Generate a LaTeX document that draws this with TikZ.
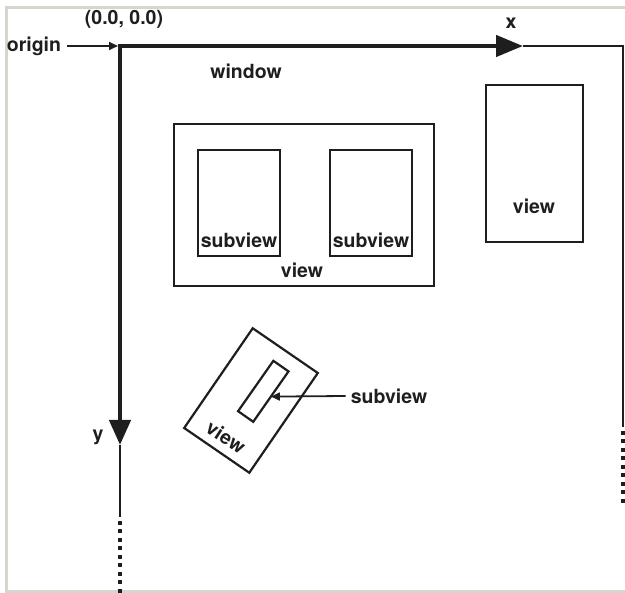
\documentclass[tikz,border=0pt]{standalone}
\usepackage{fontspec}
\setmainfont{TeX Gyre Heros}
\usepackage{tikz}
\usetikzlibrary{positioning,arrows.meta}
\usepackage{xcolor}
\definecolor{ink}{RGB}{30,30,30}
\definecolor{framegray}{RGB}{214,214,206}
\newcommand{\lblfont}{\fontsize{19.5}{21}\selectfont\bfseries}

\tikzset{
  framerule/.style={draw=framegray,line width=3pt},
  axisline/.style={draw=ink,line width=4.5pt,line join=miter},
  edgeline/.style={draw=ink,line width=1.8pt},
  dotline/.style={draw=ink,line width=3.2pt,dash pattern=on 4pt off 4.5pt},
  viewbox/.style={draw=ink,line width=2.2pt,inner sep=0pt,outer sep=0pt},
  lbl/.style={text=ink,font=\lblfont,inner sep=1pt},
  pointer/.style={draw=ink,line width=1.8pt,-{Triangle[length=9pt,width=8pt]}}
}

\begin{document}
\begin{tikzpicture}[x=1pt,y=-1pt]
\useasboundingbox (0,0) rectangle (625,593);
% grey frame of the screenshot
\draw[framerule] (625,8) -- (6,8) -- (6,592) -- (625,592);

% window axes
\coordinate (o) at (120,46);
\coordinate (xtip) at (523,46);
\coordinate (ytip) at (120,445);
\coordinate (wincorner) at (623,46);
\draw[axisline,{Triangle[length=25pt,width=21pt]}-{Triangle[length=27pt,width=21pt]}]
  (ytip) -- (o) -- (xtip);
\draw[edgeline] (xtip) -- (wincorner) -- (623,427);
\draw[dotline] (623,431) -- (623,503);
\draw[edgeline] (ytip) -- (120,517);
\draw[dotline] (120,521) -- (120,600);

\node[lbl] (originlbl) at (34,46) {origin};
\draw[pointer,shorten <=5pt,shorten >=2pt] (originlbl.east) -- (o);
\node[lbl] (zerolbl) at (124,19) {(0.0, 0.0)};
\node[lbl] (xlbl) at (511,23) {x};
\node[lbl] (ylbl) at (98,437) {y};
\node[lbl] (winlbl) at (246,71) {window};

% view with two subviews
\node[viewbox,minimum width=260pt,minimum height=162pt] (mainview) at (304,205) {};
\node[viewbox,minimum width=82pt,minimum height=106pt] (subleft) at (239,203) {};
\node[viewbox,minimum width=82pt,minimum height=106pt] (subright) at (371,203) {};
\node[lbl] at (239,240) {subview};
\node[lbl] at (371,240) {subview};
\node[lbl] at (302,270) {view};

% plain view
\node[viewbox,minimum width=97pt,minimum height=157pt] (sideview) at (534.5,163.5) {};
\node[lbl] at (534,206) {view};

% rotated view with its subview
\node[viewbox,minimum width=79pt,minimum height=121pt,rotate=-34.5] (tiltview) at (251,400.5) {};
\node[viewbox,minimum width=18.5pt,minimum height=61.5pt,rotate=-35] (tiltsub) at (263.3,391.3) {};
\node[lbl,rotate=-33] at (226,437) {view};
\node[lbl,inner sep=5pt] (tiltsublbl) at (389,396) {subview};
\draw[pointer] (tiltsublbl.west) -- (tiltsub.east);
\end{tikzpicture}
\end{document}
